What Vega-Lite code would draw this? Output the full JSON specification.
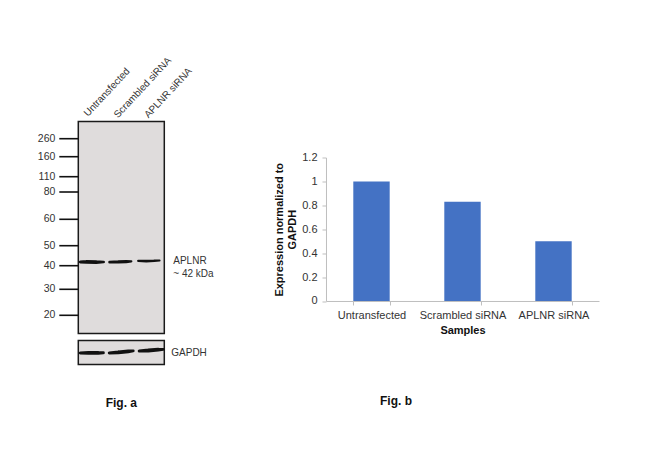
{
  "$schema": "https://vega.github.io/schema/vega-lite/v6.json",
  "description": "Western blot of APLNR and normalized expression bar chart",
  "background": "white",
  "padding": {"left": 36.3, "top": 54.5, "right": 20, "bottom": 20},
  "bounds": "flush",
  "spacing": 247.7,
  "config": {
    "font": "Liberation Sans",
    "view": {"stroke": null},
    "concat": {"spacing": 0},
    "title": {"font": "Liberation Sans", "fontSize": 12, "fontWeight": "bold", "color": "#111"}
  },
  "datasets": {
    "main_text": [
      {"label": "260", "x": -23, "y": 17.2},
      {"label": "160", "x": -23, "y": 35.2},
      {"label": "110", "x": -23, "y": 55.2},
      {"label": "80", "x": -23, "y": 70.5},
      {"label": "60", "x": -23, "y": 97.8},
      {"label": "50", "x": -23, "y": 124.2},
      {"label": "40", "x": -23, "y": 144.2},
      {"label": "30", "x": -23, "y": 167.8},
      {"label": "20", "x": -23, "y": 193.8}
    ],
    "bands_main": [
      {"lane": "Untransfected", "x": 2, "y": 140.5, "w": 2.4},
      {"lane": "Untransfected", "x": 8, "y": 140.4, "w": 3.4},
      {"lane": "Untransfected", "x": 18, "y": 140.6, "w": 3.4},
      {"lane": "Untransfected", "x": 25.3, "y": 140.5, "w": 2.2},
      {"lane": "Scrambled siRNA", "x": 31.3, "y": 140.6, "w": 2.2},
      {"lane": "Scrambled siRNA", "x": 40, "y": 140.4, "w": 3},
      {"lane": "Scrambled siRNA", "x": 48, "y": 140.1, "w": 2.8},
      {"lane": "Scrambled siRNA", "x": 53, "y": 139.8, "w": 1.6},
      {"lane": "APLNR siRNA", "x": 60, "y": 139.4, "w": 1.8},
      {"lane": "APLNR siRNA", "x": 68, "y": 139.6, "w": 2.4},
      {"lane": "APLNR siRNA", "x": 76, "y": 139.3, "w": 1.8},
      {"lane": "APLNR siRNA", "x": 81.3, "y": 139, "w": 1.2}
    ],
    "bands_gapdh": [
      {"lane": "Untransfected", "x": 2, "y": 12.5, "w": 2.6},
      {"lane": "Untransfected", "x": 10, "y": 12.3, "w": 3.6},
      {"lane": "Untransfected", "x": 20, "y": 12.4, "w": 3.6},
      {"lane": "Untransfected", "x": 25, "y": 12.3, "w": 2.6},
      {"lane": "Scrambled siRNA", "x": 31, "y": 12.5, "w": 2.6},
      {"lane": "Scrambled siRNA", "x": 40, "y": 11.8, "w": 3.6},
      {"lane": "Scrambled siRNA", "x": 50, "y": 10.8, "w": 3.4},
      {"lane": "Scrambled siRNA", "x": 55, "y": 10.3, "w": 2.2},
      {"lane": "APLNR siRNA", "x": 61, "y": 10.5, "w": 2.8},
      {"lane": "APLNR siRNA", "x": 70, "y": 10, "w": 3.8},
      {"lane": "APLNR siRNA", "x": 80, "y": 9.2, "w": 3.4},
      {"lane": "APLNR siRNA", "x": 85, "y": 8.8, "w": 2.2}
    ],
    "expression": [
      {"sample": "Untransfected", "value": 1},
      {"sample": "Scrambled siRNA", "value": 0.83},
      {"sample": "APLNR siRNA", "value": 0.5}
    ]
  },
  "hconcat": [
    {
      "bounds": "flush",
      "spacing": 7,
      "vconcat": [
        {
          "width": 86,
          "height": 212,
          "view": {"fill": "#dfdcdc", "stroke": "#1a1a1a", "strokeWidth": 1.5},
          "encoding": {
            "x": {"field": "x", "type": "quantitative", "scale": {"domain": [0, 86], "nice": false, "zero": false}, "axis": null},
            "y": {"field": "y", "type": "quantitative", "scale": {"domain": [0, 212], "nice": false, "zero": false, "reverse": true}, "axis": null}
          },
          "layer": [
            {
              "data": {"name": "main_text"},
              "mark": {"type": "rule", "color": "#111", "strokeWidth": 1.6, "clip": false},
              "encoding": {
                "x": {"datum": -19, "type": "quantitative", "scale": {"domain": [0, 86], "nice": false, "zero": false}, "axis": null},
                "x2": {"datum": 0}
              }
            },
            {
              "data": {"name": "main_text"},
              "mark": {"type": "text", "align": "right", "baseline": "middle", "fontSize": 10.5, "color": "#333"},
              "encoding": {"text": {"field": "label"}}
            },
            {
              "data": {"values": [
                {"label": "Untransfected", "x": 7.5, "y": -6.5},
                {"label": "Scrambled siRNA", "x": 37.5, "y": -5},
                {"label": "APLNR siRNA", "x": 68, "y": -5}
              ]},
              "mark": {"type": "text", "align": "left", "baseline": "middle", "angle": 313, "fontSize": 10, "color": "#333"},
              "encoding": {"text": {"field": "label"}}
            },
            {
              "data": {"values": [
                {"label": "APLNR", "x": 95, "y": 139.8},
                {"label": "~ 42 kDa", "x": 95, "y": 152.5}
              ]},
              "mark": {"type": "text", "align": "left", "baseline": "middle", "fontSize": 10, "color": "#333"},
              "encoding": {"text": {"field": "label"}}
            },
            {
              "data": {"name": "bands_main"},
              "mark": {"type": "trail", "color": "#111"},
              "encoding": {
                "detail": {"field": "lane"},
                "order": {"field": "x"},
                "size": {"field": "w", "type": "quantitative", "scale": {"type": "identity"}, "legend": null}
              }
            }
          ]
        },
        {
          "width": 86,
          "height": 24,
          "view": {"fill": "#dfdcdc", "stroke": "#1a1a1a", "strokeWidth": 1.5},
          "title": {"text": "Fig. a", "orient": "bottom", "anchor": "middle", "offset": 34},
          "encoding": {
            "x": {"field": "x", "type": "quantitative", "scale": {"domain": [0, 86], "nice": false, "zero": false}, "axis": null},
            "y": {"field": "y", "type": "quantitative", "scale": {"domain": [0, 24], "nice": false, "zero": false, "reverse": true}, "axis": null}
          },
          "layer": [
            {
              "data": {"name": "bands_gapdh"},
              "mark": {"type": "trail", "color": "#111"},
              "encoding": {
                "detail": {"field": "lane"},
                "order": {"field": "x"},
                "size": {"field": "w", "type": "quantitative", "scale": {"type": "identity"}, "legend": null}
              }
            },
            {
              "data": {"values": [{"label": "GAPDH", "x": 93, "y": 12.2}]},
              "mark": {"type": "text", "align": "left", "baseline": "middle", "fontSize": 10, "color": "#333"},
              "encoding": {"text": {"field": "label"}}
            }
          ]
        }
      ]
    },
    {
      "bounds": "flush",
      "spacing": 0,
      "vconcat": [
        {
          "width": 273,
          "height": 35.5,
          "data": {"values": [{}]},
          "mark": {"type": "point", "opacity": 0}
        },
        {
          "width": 273,
          "height": 143.5,
          "data": {"name": "expression"},
          "title": {"text": "Fig. b", "orient": "bottom", "anchor": "start", "frame": "group", "dx": 54, "offset": 60},
          "mark": {"type": "bar", "color": "#4472c4"},
          "encoding": {
            "x": {
              "field": "sample",
              "type": "nominal",
              "sort": null,
              "scale": {"paddingInner": 0.6, "paddingOuter": 0.3},
              "axis": {
                "title": "Samples",
                "titleFontSize": 11,
                "titleFontWeight": "bold",
                "titleColor": "#111",
                "titlePadding": 4,
                "labelAngle": 0,
                "labelFontSize": 11,
                "labelColor": "#333",
                "labelPadding": 5,
                "domainColor": "#bfbfbf",
                "tickColor": "#bfbfbf",
                "tickSize": 4,
                "tickBand": "extent"
              }
            },
            "y": {
              "field": "value",
              "type": "quantitative",
              "scale": {"domain": [0, 1.2]},
              "axis": {
                "title": ["Expression  normalized to", "GAPDH"],
                "titleFontSize": 11,
                "titleFontWeight": "bold",
                "titleColor": "#111",
                "titlePadding": 4,
                "values": [0, 0.2, 0.4, 0.6, 0.8, 1, 1.2],
                "format": "~g",
                "grid": false,
                "labelFontSize": 11,
                "labelColor": "#333",
                "labelPadding": 5,
                "domainColor": "#bfbfbf",
                "tickColor": "#bfbfbf",
                "tickSize": 4
              }
            }
          }
        }
      ]
    }
  ]
}
